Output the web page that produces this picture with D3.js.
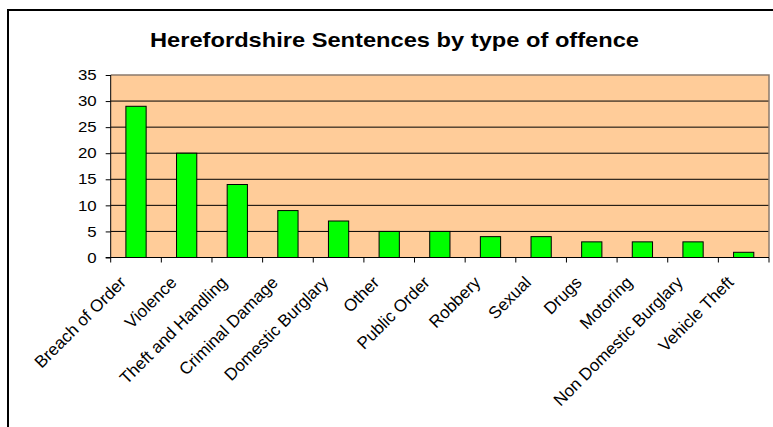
<!DOCTYPE html>
<html><head><meta charset="utf-8">
<script src="https://cdn.jsdelivr.net/npm/d3@7"></script>
<style>html,body{margin:0;padding:0;background:#fff;}svg{display:block;}</style>
</head><body>
<svg id="chart" width="773" height="427"></svg>
<script>
const categories = ["Breach of Order","Violence","Theft and Handling","Criminal Damage","Domestic Burglary","Other","Public Order","Robbery","Sexual","Drugs","Motoring","Non Domestic Burglary","Vehicle Theft"];
const values = [29,20,14,9,7,5,5,4,4,3,3,3,1];
const yTicks = [0,5,10,15,20,25,30,35];
const title = "Herefordshire Sentences by type of offence";

const svg = d3.select("#chart");
const font = "'Liberation Sans', Arial, sans-serif";
const L = 110.7, R = 769, T = 75, B = 257.5;

// outer frame
svg.append("rect").attr("x",8).attr("y",10).attr("width",800).attr("height",450)
  .attr("fill","none").attr("stroke","#000").attr("stroke-width",2);

svg.append("text").attr("x",150).attr("y",47)
  .attr("font-family",font).attr("font-weight","bold").attr("font-size",21)
  .attr("textLength",489).attr("lengthAdjust","spacingAndGlyphs")
  .text(title);

const x = d3.scaleBand().domain(categories).range([L,R]).paddingInner(0.6).paddingOuter(0.3);
const xb = d3.scaleBand().domain(categories).range([L,R]);
const y = d3.scaleLinear().domain([0,35]).range([B,T]);

svg.append("rect").attr("x",L).attr("y",T).attr("width",R-L).attr("height",B-T).attr("fill","#FFCC99");

// gridlines
svg.append("g").selectAll("line").data(yTicks.filter(d=>d>0 && d<35)).join("line")
  .attr("x1",L).attr("x2",R).attr("y1",d=>y(d)).attr("y2",d=>y(d))
  .attr("stroke","#000").attr("stroke-width",1);
// plot border top/right gray
svg.append("path").attr("d",`M${L},${T}H${R}V${B}`).attr("fill","none").attr("stroke","#8a7a6c").attr("stroke-width",1.5);

// bars
svg.append("g").selectAll("rect").data(values).join("rect")
  .attr("x",(d,i)=>x(categories[i])).attr("width",x.bandwidth())
  .attr("y",d=>y(d)).attr("height",d=>B-y(d))
  .attr("fill","#00FF00").attr("stroke","#000").attr("stroke-width",1);

// y axis
const yAxis = d3.axisLeft(y).tickValues(yTicks).tickSize(5).tickPadding(4);
const gy = svg.append("g").attr("transform",`translate(${L},0)`).call(yAxis);
gy.select(".domain").attr("stroke","#000").attr("d",`M0,${T}V${B}`);
gy.selectAll("text").attr("font-family",font).attr("font-size",14.5).attr("fill","#000")
  .attr("x",0).attr("transform","translate(-14,0) scale(1.16,1)");

// x axis with ticks at band boundaries
const gx = svg.append("g").attr("transform",`translate(0,${B})`);
gx.append("line").attr("x1",L-5).attr("x2",R).attr("stroke","#000").attr("stroke-width",1.2);
const bounds = categories.map(c=>xb(c)).concat([R]);
gx.selectAll("line.tk").data(bounds).join("line").attr("class","tk")
  .attr("x1",d=>d).attr("x2",d=>d).attr("y1",0).attr("y2",5).attr("stroke","#000");
gx.selectAll("text").data(categories).join("text")
  .attr("transform",c=>`translate(${xb(c)+xb.bandwidth()/2-9},26) rotate(-45)`)
  .attr("text-anchor","end").attr("font-family",font).attr("font-size",17).text(c=>c);
</script>
</body></html>
